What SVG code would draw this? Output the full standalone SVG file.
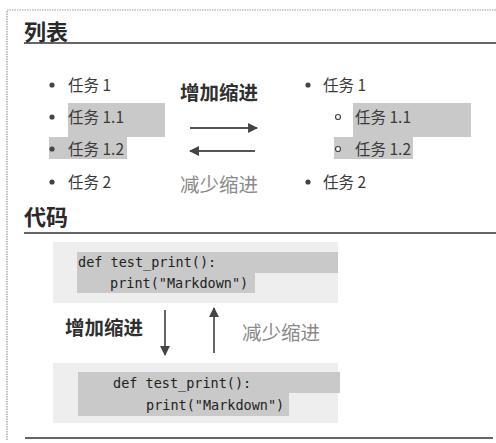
<svg xmlns="http://www.w3.org/2000/svg" width="496" height="443" viewBox="0 0 496 443">
<style>
text{font-family:"Noto Sans CJK SC","Noto Sans",sans-serif;fill:#3a3a3a}
.h{font-size:22px;font-weight:bold;fill:#2a2a2a}
.li{font-size:15.5px}
.lb{font-size:19.5px;font-weight:bold;fill:#2f2f2f}
.lg{font-size:19.5px;fill:#8a8a8a}
.code{font-family:"DejaVu Sans Mono","Liberation Mono",monospace;font-size:13.5px;fill:#222}
.hl{fill:#c9c9c9}
.bg{fill:#eeeeee}
.rule{stroke:#333;stroke-width:1.6}
.arr{stroke:#555;stroke-width:1.8;fill:none}
.dot{fill:#444}
.circ{fill:#fff;stroke:#444;stroke-width:1.2}
</style>
<defs>
<marker id="ah" viewBox="0 0 10 10" refX="9" refY="5" markerWidth="5.5" markerHeight="5.5" orient="auto"><path d="M0,0 L10,5 L0,10 z" fill="#444"/></marker>
</defs>
<rect width="496" height="443" fill="#fff"/>
<g id="frame">
<path d="M7,440 V10 H496" fill="none" stroke="#9a9a9a" stroke-width="1.2" stroke-dasharray="1.5,1"/>
</g>
<g id="heading-list">
<text class="h" x="24" y="40">列表</text>
<line class="rule" x1="24" y1="43" x2="496" y2="43"/>
</g>
<g id="list-before">
<rect class="hl" x="68" y="103" width="97" height="34"/>
<rect class="hl" x="49" y="137" width="78" height="22"/>
<circle class="dot" cx="52" cy="85" r="2.6"/><text class="li" x="68" y="90.5">任务 1</text>
<circle class="dot" cx="52" cy="117" r="2.6"/><text class="li" x="68" y="122.5">任务 1.1</text>
<circle class="dot" cx="52" cy="149" r="2.6"/><text class="li" x="68" y="154.5">任务 1.2</text>
<circle class="dot" cx="52" cy="182" r="2.6"/><text class="li" x="68" y="187.5">任务 2</text>
</g>
<g id="list-after">
<rect class="hl" x="353" y="103" width="118" height="34"/>
<rect class="hl" x="334" y="137" width="79" height="22"/>
<circle class="dot" cx="308" cy="85" r="2.6"/><text class="li" x="323" y="90.5">任务 1</text>
<circle class="circ" cx="338" cy="117" r="2.5"/><text class="li" x="355" y="122.5">任务 1.1</text>
<circle class="circ" cx="338" cy="149" r="2.5"/><text class="li" x="355" y="154.5">任务 1.2</text>
<circle class="dot" cx="308" cy="182" r="2.6"/><text class="li" x="323" y="187.5">任务 2</text>
</g>
<g id="list-labels">
<text class="lb" x="180" y="100">增加缩进</text>
<text class="lg" x="180" y="192">减少缩进</text>
</g>
<g id="heading-code">
<text class="h" x="24" y="225">代码</text>
<line class="rule" x1="24" y1="233" x2="496" y2="233"/>
</g>
<g id="code-before">
<rect class="bg" x="53" y="242" width="285" height="61"/>
<rect class="hl" x="77" y="252" width="261" height="21"/>
<rect class="hl" x="77" y="273" width="178" height="20"/>
<text class="code" x="78" y="267">def test_print():</text>
<text class="code" x="110" y="288">print("Markdown")</text>
</g>
<g id="code-labels">
<text class="lb" x="65" y="335">增加缩进</text>
<text class="lg" x="242" y="340">减少缩进</text>
</g>
<g id="code-after">
<rect class="bg" x="53" y="363" width="285" height="60"/>
<rect class="hl" x="78" y="372" width="262" height="21"/>
<rect class="hl" x="78" y="393" width="211" height="23"/>
<text class="code" x="113" y="388">def test_print():</text>
<text class="code" x="146" y="410">print("Markdown")</text>
</g>
<g id="connectors">
<line class="arr" x1="190" y1="128" x2="257" y2="128" marker-end="url(#ah)"/>
<line class="arr" x1="255" y1="151" x2="190" y2="151" marker-end="url(#ah)"/>
<line class="arr" x1="165" y1="310" x2="165" y2="355" marker-end="url(#ah)"/>
<line class="arr" x1="214" y1="353" x2="214" y2="308" marker-end="url(#ah)"/>
</g>
<g id="bottom-rule">
<line class="rule" x1="25" y1="438" x2="493" y2="438"/>
</g>
</svg>
